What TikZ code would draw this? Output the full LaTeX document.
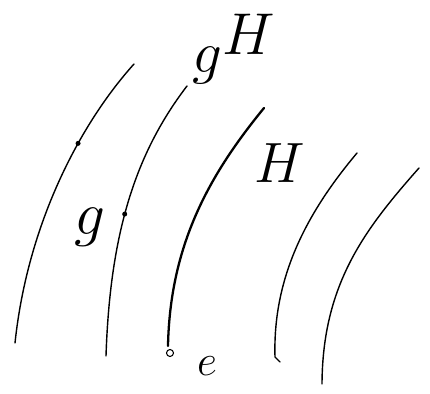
\documentclass[tikz,border=0pt]{standalone}
\begin{document}
\begin{tikzpicture}[coset/.style={line width=0.8pt, line cap=round},
                    lbl/.style={font=\Huge, inner sep=0pt}]
        \useasboundingbox (0,0) rectangle (8.6,7.88);
        % the cosets, left to right
        \draw[coset] (2.68,6.60) .. controls (1.6,5.4) and (0.55,3.4) .. (0.30,1.02)
            coordinate[pos=0.36] (p);
        \draw[coset] (3.74,6.16) .. controls (2.7,4.8) and (2.2,3.2) .. (2.12,0.76)
            coordinate[pos=0.55] (g);
        \draw[coset, line width=1.3pt] (5.28,5.72) .. controls (4.2,4.4) and (3.4,3.0) .. (3.36,0.96);
        \draw[coset] (7.14,4.82) .. controls (6.2,3.7) and (5.45,2.4) .. (5.50,0.74) -- (5.60,0.64);
        \draw[coset] (8.38,4.52) .. controls (7.3,3.3) and (6.45,2.2) .. (6.44,0.20);
        % marked points
        \coordinate (e) at (3.40,0.82);
        \fill (p) circle (0.05);
        \fill (g) circle (0.05);
        \draw[line width=0.6pt] (e) circle (0.07);
        % labels
        \node[lbl, scale=1.35] (gH) at (4.68,6.90) {$g\raisebox{0.3em}{$H$}$};
        \node[lbl, scale=1.3] (H) at (5.60,4.62) {$H$};
        \node[lbl, scale=1.4] (glab) at (1.80,3.34) {$g$};
        \node[lbl] (elab) at (4.14,0.56) {$e$};
\end{tikzpicture}
\end{document}
